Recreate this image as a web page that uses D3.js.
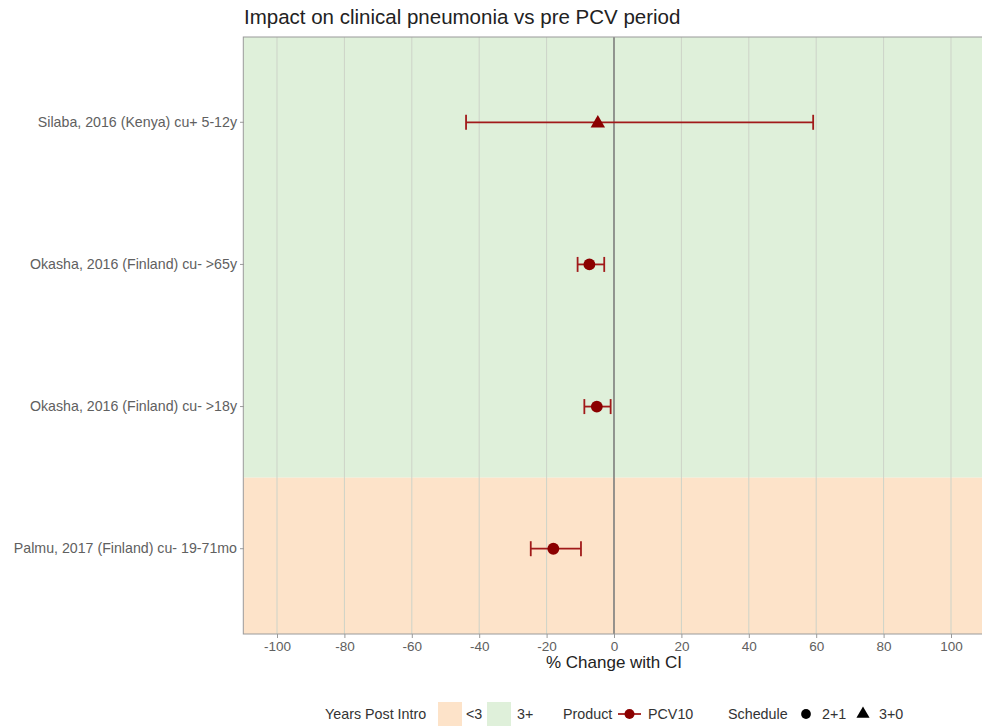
<!DOCTYPE html>
<html>
<head>
<meta charset="utf-8">
<script src="https://cdn.jsdelivr.net/npm/d3@7"></script>
<style>
  body { margin: 0; background: #fff; }
  text { font-family: "Liberation Sans", Arial, sans-serif; }
</style>
</head>
<body>
<svg id="chart" width="982" height="727"></svg>
<script>
// study labels, top to bottom
const studies = [
  'Silaba, 2016 (Kenya) cu+ 5-12y',
  'Okasha, 2016 (Finland) cu- >65y',
  'Okasha, 2016 (Finland) cu- >18y',
  'Palmu, 2017 (Finland) cu- 19-71mo'
];
const estimate = [-4.8, -7.3, -5.1, -18.0];
const lower = [-43.9, -10.8, -8.8, -24.7];
const upper = [59.1, -2.9, -1.0, -9.8];
const schedule = ['3+0', '2+1', '2+1', '2+1'];
const yearsPost = ['3+', '3+', '3+', '<3'];
const xTicks = [-100, -80, -60, -40, -20, 0, 20, 40, 60, 80, 100];

const bandColor = { '<3': '#fde3c9', '3+': '#dff0da' };
const markColor = '#8b0000';
const barColor = '#a11a1a';
const font = '"Liberation Sans", Arial, sans-serif';

const svg = d3.select('#chart');
const panel = { left: 244, top: 37, bottom: 634 };

const x = d3.scaleLinear().domain([-110, 110]).range([243.3, 984.7]);
const y = d3.scaleBand().domain(studies).range([panel.top, panel.bottom])
  .paddingOuter(0.1).paddingInner(0);
// centre of each band
const yc = (s) => y(s) + y.bandwidth() / 2;
const step = y.step();

const g = svg.append('g');

// background bands: group consecutive rows with the same years-post value
const runs = [];
studies.forEach((s, i) => {
  const top = i === 0 ? panel.top : yc(s) - step / 2;
  const bot = i === studies.length - 1 ? panel.bottom : yc(s) + step / 2;
  const last = runs[runs.length - 1];
  if (last && last.key === yearsPost[i]) last.bot = bot;
  else runs.push({ key: yearsPost[i], top, bot });
});
g.selectAll('.band').data(runs).join('rect')
  .attr('x', x(-110))
  .attr('width', x(110) - x(-110))
  .attr('y', (d) => d.top)
  .attr('height', (d) => d.bot - d.top)
  .attr('fill', (d) => bandColor[d.key]);

// vertical grid
g.selectAll('.grid').data(xTicks).join('line')
  .attr('x1', (d) => x(d)).attr('x2', (d) => x(d))
  .attr('y1', panel.top).attr('y2', panel.bottom)
  .attr('stroke', '#cdd3c8').attr('stroke-width', 1);

// zero line
g.append('line')
  .attr('x1', x(0)).attr('x2', x(0))
  .attr('y1', panel.top).attr('y2', panel.bottom)
  .attr('stroke', '#6b6b6b').attr('stroke-width', 1.3);

// panel border
g.append('rect')
  .attr('x', x(-110)).attr('y', panel.top)
  .attr('width', x(110) - x(-110)).attr('height', panel.bottom - panel.top)
  .attr('fill', 'none').attr('stroke', '#9a9a9a').attr('stroke-width', 1);

// error bars
const cap = 7.5;
studies.forEach((s, i) => {
  const cy = yc(s);
  const eb = g.append('g').attr('stroke', barColor).attr('stroke-width', 1.8);
  eb.append('line').attr('x1', x(lower[i])).attr('x2', x(upper[i]))
    .attr('y1', cy).attr('y2', cy);
  eb.append('line').attr('x1', x(lower[i])).attr('x2', x(lower[i]))
    .attr('y1', cy - cap).attr('y2', cy + cap);
  eb.append('line').attr('x1', x(upper[i])).attr('x2', x(upper[i]))
    .attr('y1', cy - cap).attr('y2', cy + cap);
});

// points
const symbolFor = (sch) => sch === '3+0' ? d3.symbolTriangle : d3.symbolCircle;
studies.forEach((s, i) => {
  g.append('path')
    .attr('d', d3.symbol().type(symbolFor(schedule[i]))
      .size(schedule[i] === '3+0' ? 90 : 110)())
    .attr('transform', `translate(${x(estimate[i])},${yc(s) + (schedule[i] === '3+0' ? 1 : 0)})`)
    .attr('fill', markColor);
});

// x axis
const xAxis = svg.append('g')
  .attr('transform', `translate(0,${panel.bottom})`)
  .call(d3.axisBottom(x).tickValues(xTicks).tickSize(4).tickPadding(3).tickFormat(d3.format('d')));
xAxis.select('.domain').remove();
xAxis.selectAll('line').attr('stroke', '#9a9a9a');
xAxis.selectAll('text').attr('fill', '#606060').style('font-size', '13.5px')
  .style('font-family', font);
xAxis.selectAll('text').text((d) => d < 0 ? '-' + Math.abs(d) : d);

// y axis
const yAxis = svg.append('g')
  .attr('transform', `translate(${panel.left},0)`)
  .call(d3.axisLeft(y).tickSize(4).tickPadding(3));
yAxis.select('.domain').remove();
yAxis.selectAll('line').attr('stroke', '#9a9a9a');
yAxis.selectAll('text').attr('fill', '#606060').style('font-size', '14.2px')
  .style('font-family', font);

// titles
svg.append('text')
  .attr('x', 244).attr('y', 24)
  .attr('fill', '#222').style('font-size', '20.5px')
  .text('Impact on clinical pneumonia vs pre PCV period');

svg.append('text')
  .attr('x', 614).attr('y', 668)
  .attr('text-anchor', 'middle')
  .attr('fill', '#222').style('font-size', '17px')
  .text('% Change with CI');

// legend
const leg = svg.append('g').attr('transform', 'translate(0,714)');
const legText = (tx, str) => leg.append('text')
  .attr('x', tx).attr('y', 5).attr('fill', '#333')
  .style('font-size', '14.3px').text(str);

legText(325, 'Years Post Intro');
leg.append('rect').attr('x', 438).attr('y', -12).attr('width', 24).attr('height', 24)
  .attr('fill', bandColor['<3']);
legText(466, '<3');
leg.append('rect').attr('x', 487).attr('y', -12).attr('width', 24).attr('height', 24)
  .attr('fill', bandColor['3+']);
legText(517, '3+');

legText(563, 'Product');
leg.append('line').attr('x1', 618).attr('x2', 641).attr('y1', 0).attr('y2', 0)
  .attr('stroke', barColor).attr('stroke-width', 1.8);
leg.append('circle').attr('cx', 629.5).attr('cy', 0).attr('r', 5).attr('fill', markColor);
legText(648, 'PCV10');

legText(728, 'Schedule');
leg.append('path').attr('d', d3.symbol().type(d3.symbolCircle).size(75)())
  .attr('transform', 'translate(806,0)').attr('fill', '#000');
legText(822, '2+1');
leg.append('path').attr('d', d3.symbol().type(d3.symbolTriangle).size(75)())
  .attr('transform', 'translate(863,0)').attr('fill', '#000');
legText(879, '3+0');
</script>
</body>
</html>
